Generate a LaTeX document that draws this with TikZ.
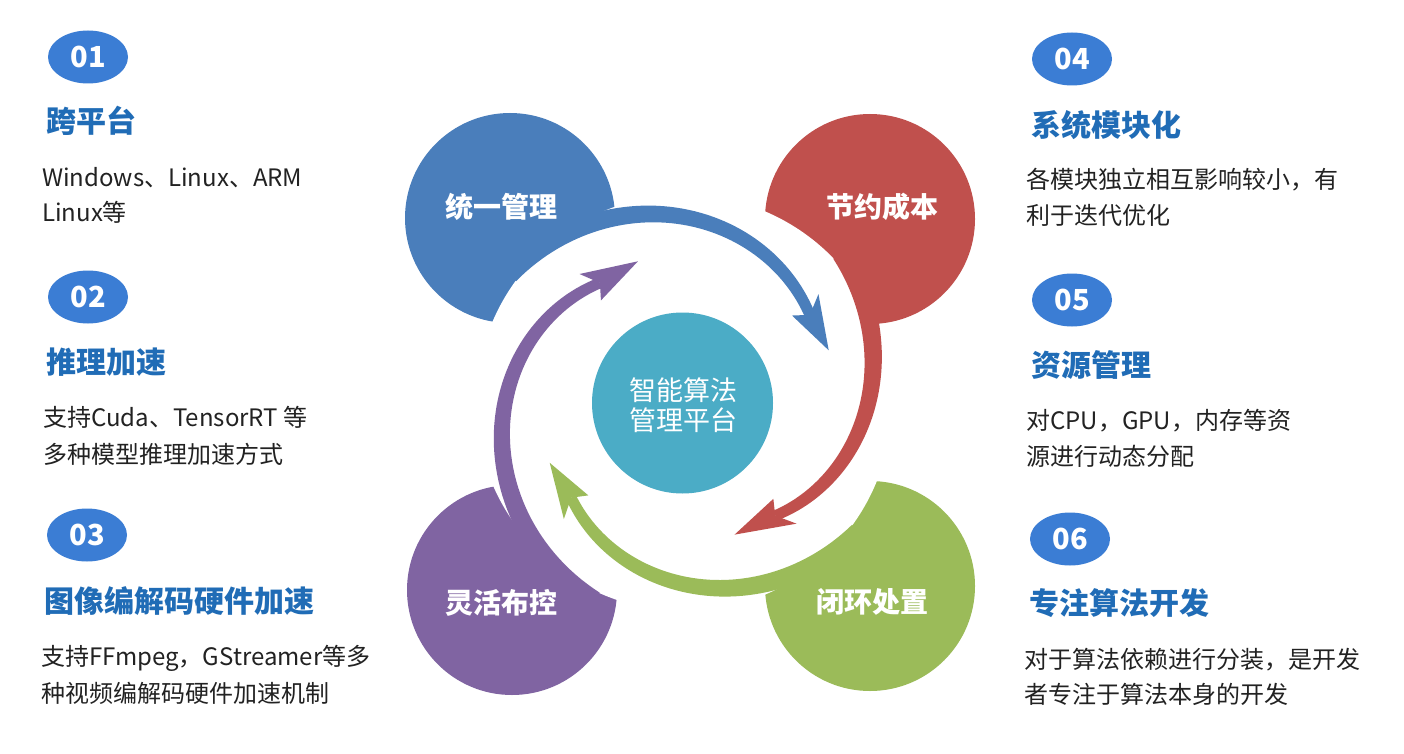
\documentclass[tikz,border=0pt]{standalone}
\usepackage{fontspec}
\newfontfamily\cjk{Noto Sans CJK SC}
\definecolor{cblue}{HTML}{4A7EBB}
\definecolor{cred}{HTML}{C0504D}
\definecolor{cgreen}{HTML}{9BBB59}
\definecolor{cpurple}{HTML}{8064A2}
\definecolor{cteal}{HTML}{4BACC6}
\definecolor{numblue}{HTML}{3B7DD4}
\definecolor{headblue}{HTML}{206CB6}
\definecolor{bodyc}{HTML}{222222}
\def\cx{684}\def\cy{403}
% color, a0, ab, rb, k, w0, w1, at, rt
\newcommand\sparrow[9]{%
  \pgfmathsetmacro\ae{#3+4}%
  \fill[#1] plot[domain=#2:\ae,samples=60,variable=\t]
     ({\cx+(#4+#5*(#3-(\t))+#6+(#7-#6)*((\t)-(#2))/(\ae-(#2)))*cos(\t)},
      {\cy+(#4+#5*(#3-(\t))+#6+(#7-#6)*((\t)-(#2))/(\ae-(#2)))*sin(\t)})
   -- plot[domain=\ae:#2,samples=60,variable=\t]
     ({\cx+(#4+#5*(#3-(\t))-#6-(#7-#6)*((\t)-(#2))/(\ae-(#2)))*cos(\t)},
      {\cy+(#4+#5*(#3-(\t))-#6-(#7-#6)*((\t)-(#2))/(\ae-(#2)))*sin(\t)})
   -- cycle;
  \fill[#1] ({\cx+(#9)*cos(#8)},{\cy+(#9)*sin(#8)})
     -- ({\cx+(#4+17)*cos(#3)},{\cy+(#4+17)*sin(#3)})
     -- ({\cx+(#4-4*#5)*cos(\ae)},{\cy+(#4-4*#5)*sin(\ae)})
     -- ({\cx+(#4-17)*cos(#3)},{\cy+(#4-17)*sin(#3)})
     -- cycle;
}
\tikzset{
  bigc/.style={circle,inner sep=0pt,minimum size=210pt,fill=#1},
  ctext/.style={font=\cjk\bfseries\fontsize{28}{28}\selectfont,text=white,anchor=base,inner sep=0pt},
  mtext/.style={font=\cjk\fontsize{27}{27}\selectfont,text=white,anchor=base,inner sep=0pt},
  numbox/.style={ellipse,fill=numblue,minimum width=80pt,minimum height=53pt,inner sep=0pt,
     font=\cjk\bfseries\fontsize{29}{29}\selectfont,text=white},
  head/.style={font=\cjk\bfseries\fontsize{30}{30}\selectfont,text=headblue,anchor=base west,inner sep=0pt},
  body/.style={font=\cjk\fontsize{24}{24}\selectfont,text=bodyc,anchor=base west,inner sep=0pt},
}
\usetikzlibrary{shapes.geometric}
\begin{document}
\begin{tikzpicture}[x=1pt,y=-1pt]
\useasboundingbox[fill=white] (0,0) rectangle (1404,754);
% colored circles
\node[bigc=cblue] (cb) at (510,218) {};
\node[bigc=cred] (cr) at (870,219) {};
\node[bigc=cpurple] (cp) at (512,590) {};
\node[bigc=cgreen] (cg) at (870,586) {};
% white disk
\fill[white] (\cx,\cy) circle (208);
% center
\node[circle,inner sep=0pt,minimum size=181pt,fill=cteal] (ct) at (682.5,403) {};
% arrows
\sparrow{cblue}{-144}{-39}{156}{0.59}{10.5}{5.5}{-20}{154}
\sparrow{cred}{-44}{47}{148}{0.77}{10.5}{5.5}{69}{141}
\sparrow{cgreen}{36}{136}{150}{0.68}{10.5}{5.5}{156}{147}
\sparrow{cpurple}{114}{231}{149}{0.59}{10.5}{5.5}{252}{149}
% circle texts
\node[ctext] (t1) at (501,217) {统一管理};
\node[ctext] (t2) at (882,217) {节约成本};
\node[ctext] (t3) at (501,613) {灵活布控};
\node[ctext] (t4) at (872,612) {闭环处置};
\node[mtext] (m1) at (683.5,400) {智能算法};
\node[mtext] (m2) at (683.5,430) {管理平台};
% left column
\node[numbox] (n1) at (88,57) {01};
\node[head] (h1) at (46,133) {跨平台};
\node[body] (b11) at (42,186) {Windows、Linux、ARM};
\node[body] (b12) at (42,221) {Linux等};
\node[numbox] (n2) at (88,297) {02};
\node[head] (h2) at (46,373) {推理加速};
\node[body] (b21) at (43,426) {支持Cuda、TensorRT 等};
\node[body] (b22) at (43,463) {多种模型推理加速方式};
\node[numbox] (n3) at (87,535) {03};
\node[head] (h3) at (44,612) {图像编解码硬件加速};
\node[body] (b31) at (41,665) {支持FFmpeg，GStreamer等多};
\node[body] (b32) at (41,702) {种视频编解码硬件加速机制};
% right column
\node[numbox] (n4) at (1072,59) {04};
\node[head] (h4) at (1031,137) {系统模块化};
\node[body] (b41) at (1026,189) {各模块独立相互影响较小，有};
\node[body] (b42) at (1026,224) {利于迭代优化};
\node[numbox] (n5) at (1072,300) {05};
\node[head] (h5) at (1031,376) {资源管理};
\node[body] (b51) at (1026,429) {对CPU，GPU，内存等资};
\node[body] (b52) at (1026,465) {源进行动态分配};
\node[numbox] (n6) at (1070,539) {06};
\node[head] (h6) at (1029,614) {专注算法开发};
\node[body] (b61) at (1024,668) {对于算法依赖进行分装，是开发};
\node[body] (b62) at (1024,703) {者专注于算法本身的开发};
\end{tikzpicture}
\end{document}
